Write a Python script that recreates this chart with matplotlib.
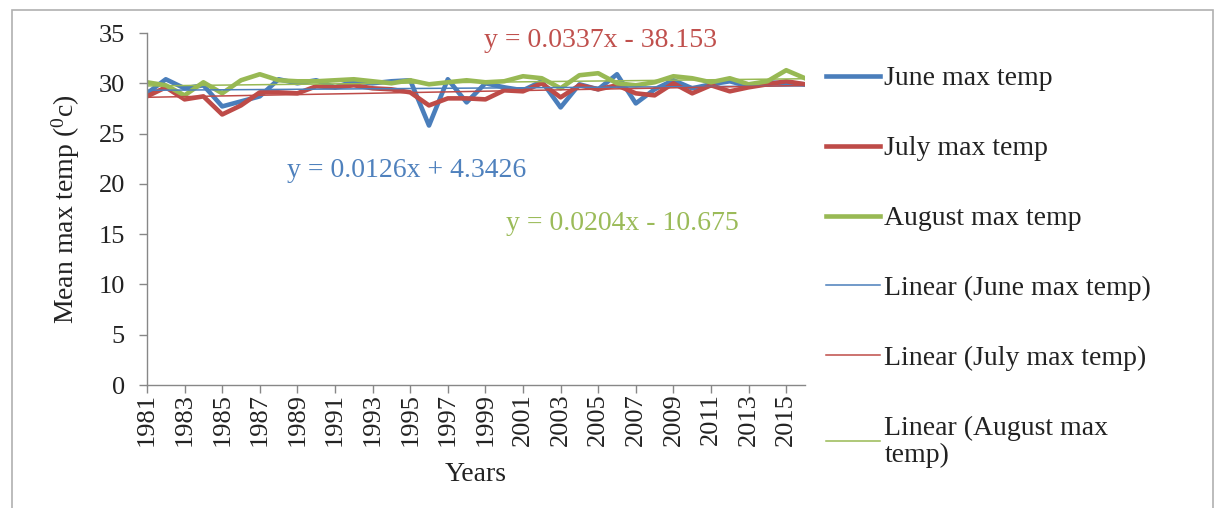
import matplotlib
matplotlib.use("Agg")
import matplotlib.pyplot as plt
from matplotlib.patches import Rectangle
import numpy as np

# Mean monthly maximum temperature, 1981-2016
years = list(range(1981, 2017))
june_max = [29.0, 30.4, 29.5, 29.8, 27.7, 28.2, 28.7, 30.4, 30.0, 30.3,
            29.6, 30.2, 30.0, 30.2, 30.3, 25.8, 30.4, 28.1, 30.0, 29.6,
            29.3, 30.2, 27.6, 29.9, 29.4, 30.9, 28.0, 29.4, 30.3, 29.5,
            29.9, 30.2, 29.7, 30.1, 30.0, 29.9]
july_max = [28.7, 29.6, 28.4, 28.7, 26.9, 27.8, 29.1, 29.1, 29.0, 29.7,
            29.6, 29.8, 29.5, 29.4, 29.1, 27.8, 28.5, 28.5, 28.4, 29.3,
            29.2, 30.0, 28.6, 29.8, 29.4, 29.8, 29.0, 28.8, 30.0, 29.0,
            29.8, 29.2, 29.6, 29.9, 30.2, 29.9]
aug_max = [30.1, 29.8, 28.8, 30.1, 29.0, 30.3, 30.9, 30.3, 30.2, 30.2,
           30.3, 30.4, 30.2, 30.0, 30.3, 29.9, 30.1, 30.3, 30.1, 30.2,
           30.7, 30.5, 29.5, 30.8, 31.0, 30.0, 29.8, 30.1, 30.7, 30.5,
           30.1, 30.5, 29.9, 30.2, 31.3, 30.5]

# Linear trend coefficients (slope, intercept) per month
june_fit = (0.0126, 4.3426)
july_fit = (0.0337, -38.153)
aug_fit = (0.0204, -10.675)

series_names = ["June max temp", "July max temp", "August max temp"]
trend_names = ["Linear (June max temp)", "Linear (July max temp)",
               "Linear (August max\ntemp)"]
x_tick_years = list(range(1981, 2016, 2))
y_ticks = [0, 5, 10, 15, 20, 25, 30, 35]

c_blue = "#4A7EBB"
c_red = "#BE4B48"
c_green = "#98B954"
grey = "#878787"
ink = "#222222"

plt.rcParams["font.family"] = ["Liberation Serif", "DejaVu Serif"]
plt.rcParams["mathtext.fontset"] = "custom"
plt.rcParams["mathtext.rm"] = "Liberation Serif"
plt.rcParams["mathtext.it"] = "Liberation Serif:italic"

fig = plt.figure(figsize=(12.24, 5.08), dpi=100)
ax = fig.add_axes([147 / 1224, 1 - 385 / 508, (805 - 147) / 1224, (385 - 33) / 508])

# chart border
fig.add_artist(Rectangle((12 / 1224, -0.05), (1213 - 12) / 1224, 1 - 10 / 508 + 0.05,
                         transform=fig.transFigure, fill=False,
                         edgecolor="#B0B0B0", linewidth=1.2))

yrs = np.array(years)
h1, = ax.plot(yrs, june_max, color=c_blue, lw=3.3)
h2, = ax.plot(yrs, july_max, color=c_red, lw=3.3)
h3, = ax.plot(yrs, aug_max, color=c_green, lw=3.3)

t1, = ax.plot(yrs, june_fit[0] * yrs + june_fit[1], color=c_blue, lw=1.1)
t2, = ax.plot(yrs, july_fit[0] * yrs + july_fit[1], color=c_red, lw=1.1)
t3, = ax.plot(yrs, aug_fit[0] * yrs + aug_fit[1], color=c_green, lw=1.1)

# trend equations
ax.text(1998.95, 34.3, "y = %.4fx - %.3f" % (july_fit[0], -july_fit[1]),
        color="#C0504D", fontsize=20, ha="left", va="center")
ax.text(1988.45, 21.3, "y = %.4fx + %.4f" % (june_fit[0], june_fit[1]),
        color="#4F81BD", fontsize=20, ha="left", va="center")
ax.text(2000.1, 16.1, "y = %.4fx - %.3f" % (aug_fit[0], -aug_fit[1]),
        color="#9BBB59", fontsize=20, ha="left", va="center")

ax.set_xlim(1981, 2016)
ax.set_ylim(0, 35)
ax.set_yticks(y_ticks)
ax.set_xticks(x_tick_years)
ax.set_xticklabels([str(y) for y in x_tick_years], rotation=90)

for side in ("top", "right"):
    ax.spines[side].set_visible(False)
for side in ("left", "bottom"):
    ax.spines[side].set_color(grey)
    ax.spines[side].set_linewidth(1.0)
ax.tick_params(axis="both", direction="out", length=6, width=1.0, color=grey,
               labelcolor=ink)
ax.tick_params(axis="y", pad=10, labelsize=19)
ax.tick_params(axis="x", pad=0, labelsize=19)

ax.set_xlabel("Years", fontsize=20, color=ink, labelpad=11)
ax.set_ylabel("Mean max temp ($^{0}$c)", fontsize=20, color=ink, labelpad=12)

leg = ax.legend([h1, h2, h3, t1, t2, t3], series_names + trend_names,
                loc="upper left", bbox_to_anchor=(826 / 1224, 1 - 66 / 508),
                bbox_transform=fig.transFigure, frameon=False, fontsize=20,
                handlelength=1.95, handletextpad=0.15, labelspacing=1.6,
                borderaxespad=0, borderpad=0)
for txt in leg.get_texts():
    txt.set_color(ink)
    txt.set_linespacing(1.1)

fig.savefig("out.png", dpi=100)
